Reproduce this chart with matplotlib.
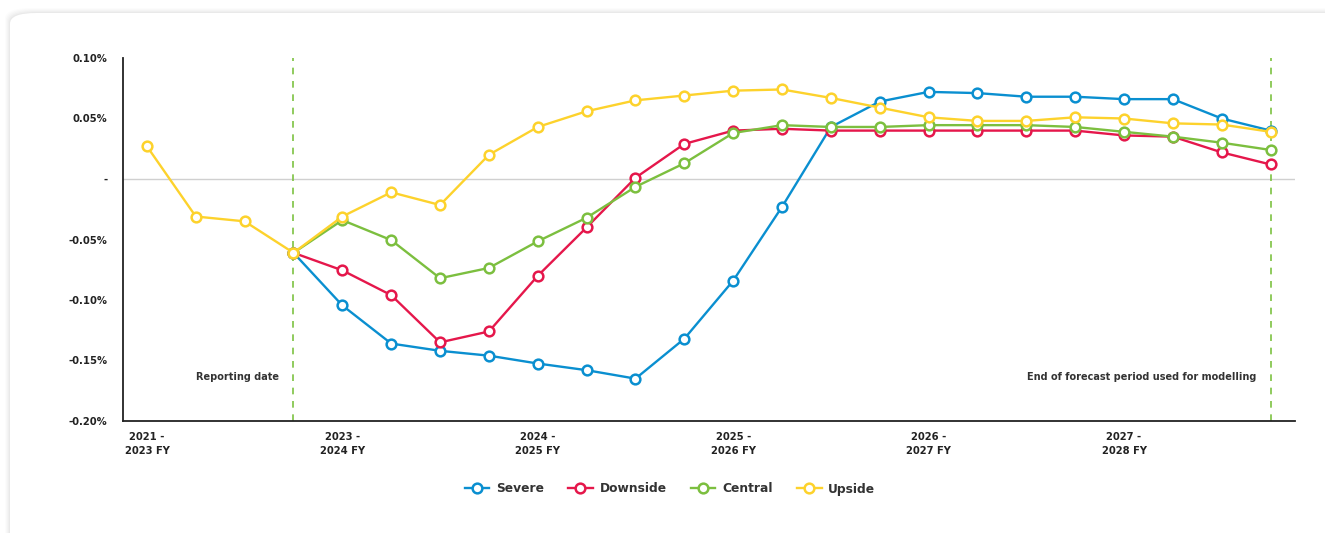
import numpy as np
import matplotlib.pyplot as plt
from matplotlib.patches import FancyBboxPatch
from matplotlib.lines import Line2D

nan = np.nan

# x positions are half-year steps, labels every fourth point
tick_idx = [0, 4, 8, 12, 16, 20]
tick_labels = ["2021 -\n2023 FY", "2023 -\n2024 FY", "2024 -\n2025 FY",
               "2025 -\n2026 FY", "2026 -\n2027 FY", "2027 -\n2028 FY"]

# values in percent
severe = [nan, nan, nan, -0.061, -0.1045, -0.136, -0.142, -0.146, -0.1525, -0.158,
          -0.165, -0.132, -0.084, -0.023, 0.043, 0.064, 0.072, 0.071, 0.068, 0.068,
          0.066, 0.066, 0.050, 0.040]
downside = [nan, nan, nan, -0.061, -0.0755, -0.096, -0.135, -0.126, -0.080, -0.040,
            0.001, 0.029, 0.040, 0.0415, 0.040, 0.040, 0.040, 0.040, 0.040, 0.040,
            0.036, 0.035, 0.022, 0.012]
central = [nan, nan, nan, -0.061, -0.034, -0.0505, -0.082, -0.0735, -0.0515, -0.032,
           -0.0065, 0.013, 0.038, 0.0445, 0.043, 0.043, 0.0445, 0.0445, 0.0445, 0.043,
           0.039, 0.035, 0.030, 0.024]
upside = [0.027, -0.031, -0.035, -0.061, -0.031, -0.011, -0.0215, 0.020, 0.043, 0.056,
          0.065, 0.069, 0.073, 0.074, 0.067, 0.059, 0.051, 0.048, 0.048, 0.051,
          0.050, 0.046, 0.045, 0.039]

series = [("Severe", severe, "#0a8fd0"),
          ("Downside", downside, "#e5174b"),
          ("Central", central, "#7cbf3f"),
          ("Upside", upside, "#fdd22c")]

W, H = 1325, 533
fig = plt.figure(figsize=(W / 100, H / 100), dpi=100)
fig.patch.set_facecolor("white")

# card with soft shadow on top / left
for i, a in enumerate([0.012, 0.014, 0.016, 0.02, 0.024]):
    pad = 5 - i
    fig.patches.append(FancyBboxPatch(
        ((10 - pad) / W, -0.2), 1400 / W, (H - 13 + pad) / H + 0.2,
        boxstyle="round,pad=0,rounding_size=0.02", transform=fig.transFigure,
        facecolor="black", edgecolor="none", alpha=a, zorder=-3))
fig.patches.append(FancyBboxPatch(
    (10 / W, -0.2), 1400 / W, (H - 13) / H + 0.2,
    boxstyle="round,pad=0,rounding_size=0.02", transform=fig.transFigure,
    facecolor="white", edgecolor="none", zorder=-2))

ax = fig.add_axes([123 / W, 1 - 421 / H, (1295 - 123) / W, (421 - 58) / H])
ax.set_facecolor("none")

x = np.arange(len(upside))
for name, vals, col in series:
    ax.plot(x, vals, color=col, lw=1.7, marker="o", ms=7, mfc="white",
            mec=col, mew=1.8, zorder=3)

ax.axhline(0, color="#d0d0d0", lw=1, zorder=1)
for xv in [3, 23]:
    ax.axvline(xv, color="#7dc242", lw=1.2, ls=(0, (4, 4)), zorder=2)

ax.set_xlim(-0.49, 23.5)
ax.set_ylim(-0.20, 0.10)
yt = [-0.20, -0.15, -0.10, -0.05, 0, 0.05, 0.10]
ax.set_yticks(yt)
ax.set_yticklabels(["-" if v == 0 else f"{v:.2f}%" for v in yt])
ax.set_xticks(tick_idx)
ax.set_xticklabels(tick_labels, linespacing=1.5)
ax.tick_params(length=0, labelsize=7.2, colors="#222222")
ax.tick_params(axis="y", pad=11)
ax.tick_params(axis="x", pad=8)
for lab in ax.get_xticklabels() + ax.get_yticklabels():
    lab.set_fontweight("bold")

for s in ["top", "right"]:
    ax.spines[s].set_visible(False)
ax.spines["left"].set_linewidth(1.3)
ax.spines["bottom"].set_linewidth(1.3)
ax.spines["left"].set_color("#222222")
ax.spines["bottom"].set_color("#222222")

ax.text(2.7, -0.1635, "Reporting date", ha="right", va="center", fontsize=7,
        fontweight="bold", color="#333333")
ax.text(22.7, -0.1635, "End of forecast period used for modelling", ha="right",
        va="center", fontsize=7, fontweight="bold", color="#333333")

handles = [Line2D([0], [0], color=c, lw=1.7, marker="o", ms=7, mfc="white",
                  mec=c, mew=1.8) for _, _, c in series]
fig.legend(handles, [s[0] for s in series], loc="center",
           bbox_to_anchor=(670 / W, 1 - 489 / H), ncol=4, frameon=False,
           prop={"weight": "bold", "size": 8.8}, handlelength=2.0,
           columnspacing=2.0, handletextpad=0.55, labelcolor="#333333")

fig.savefig("out.png", dpi=100)
